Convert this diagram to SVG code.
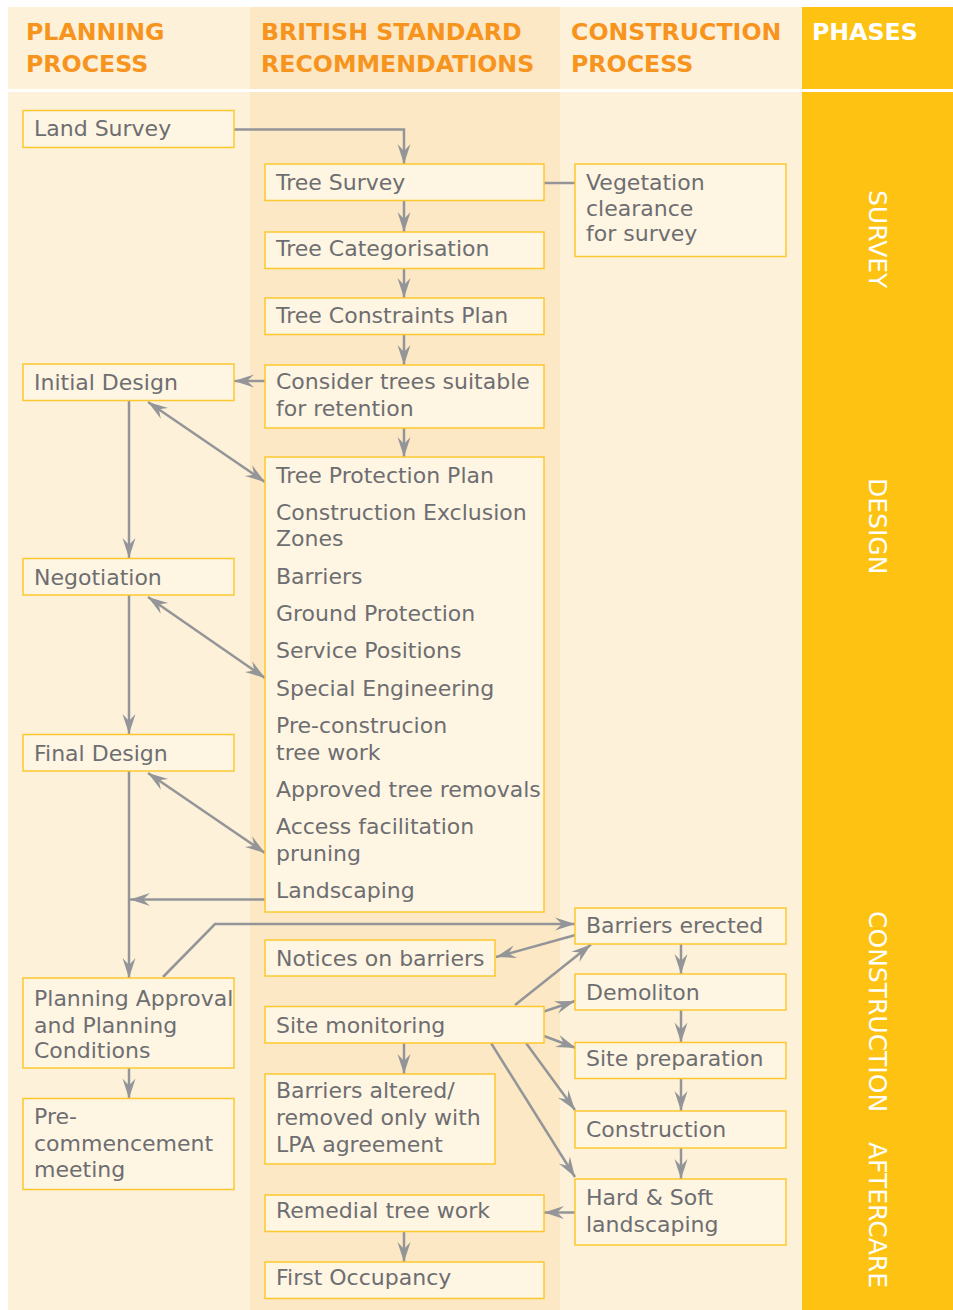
<svg xmlns="http://www.w3.org/2000/svg" width="953" height="1310" viewBox="0 0 953 1310">
<style>
.bg1{fill:#fef1d9}
.bg2{fill:#fde8c5}
.ph{fill:#fdc212}
.hd{font-family:"DejaVu Sans",sans-serif;font-weight:bold;font-size:23.7px;fill:#f7941d}
.hdw{fill:#ffffff}
.box{fill:#fff5e3;stroke:#fdc82f;stroke-width:1.5}
.t{font-family:"DejaVu Sans",sans-serif;font-size:22px;fill:#6d6e71}
.phl{font-family:"DejaVu Sans",sans-serif;font-size:25px;fill:#ffffff}
.c{fill:none;stroke:#939598;stroke-width:2.5}
.a{marker-end:url(#ah)}
.aa{marker-start:url(#ah);marker-end:url(#ah)}
</style>
<defs>
<marker id="ah" viewBox="-21 -8 22 16" refX="0" refY="0" markerWidth="22" markerHeight="16" markerUnits="userSpaceOnUse" orient="auto-start-reverse">
<path d="M0,0 L-20,-6.5 L-13,0 L-20,6.5 Z" fill="#939598"/>
</marker>
</defs>
<rect x="0" y="0" width="953" height="1310" fill="#ffffff"/>
<g id="background">
<rect class="bg1" x="8" y="7" width="242" height="82"/>
<rect class="bg2" x="250" y="7" width="310" height="82"/>
<rect class="bg1" x="560" y="7" width="242" height="82"/>
<rect class="ph" x="802" y="7" width="151" height="82"/>
<rect class="bg1" x="8" y="92" width="242" height="1218"/>
<rect class="bg2" x="250" y="92" width="310" height="1218"/>
<rect class="bg1" x="560" y="92" width="242" height="1218"/>
<rect class="ph" x="802" y="92" width="151" height="1218"/>
</g>
<g id="headers">
<text class="hd" x="26" y="40">PLANNING</text>
<text class="hd" x="26" y="72">PROCESS</text>
<text class="hd" x="261" y="40">BRITISH STANDARD</text>
<text class="hd" x="261" y="72">RECOMMENDATIONS</text>
<text class="hd" x="571" y="40">CONSTRUCTION</text>
<text class="hd" x="571" y="72">PROCESS</text>
<text class="hd hdw" x="812" y="40">PHASES</text>
</g>
<g id="phases">
<text class="phl" transform="translate(869,190) rotate(90)">SURVEY</text>
<text class="phl" transform="translate(869,478) rotate(90)">DESIGN</text>
<text class="phl" transform="translate(869,911) rotate(90)">CONSTRUCTION</text>
<text class="phl" transform="translate(869,1142) rotate(90)">AFTERCARE</text>
</g>
<g id="connectors">
<path class="c a" d="M234,129.5 H404 V164"/>
<path class="c" d="M544,183 H575"/>
<path class="c a" d="M404,200.5 V232"/>
<path class="c a" d="M404,268.5 V298"/>
<path class="c a" d="M404,334.5 V365"/>
<path class="c a" d="M265,381 H234"/>
<path class="c a" d="M404,428 V457"/>
<path class="c aa" d="M148,402 L265,482"/>
<path class="c a" d="M129,400.5 V558"/>
<path class="c aa" d="M148,597 L265,678"/>
<path class="c a" d="M129,595 V734"/>
<path class="c aa" d="M148,773 L265,853"/>
<path class="c a" d="M129,771 V978"/>
<path class="c a" d="M265,899.5 H130"/>
<path class="c a" d="M163,977 L215,924 H575"/>
<path class="c a" d="M575.5,935 L496,957"/>
<path class="c a" d="M515,1005 L591,944.5"/>
<path class="c a" d="M544,1011.5 L575,1001"/>
<path class="c a" d="M544,1036 L576,1048"/>
<path class="c a" d="M526,1043 L575,1110"/>
<path class="c a" d="M491,1043 L575,1177"/>
<path class="c a" d="M404,1043 V1074"/>
<path class="c a" d="M681,944 V974"/>
<path class="c a" d="M681,1010 V1042.5"/>
<path class="c a" d="M681,1078.5 V1111"/>
<path class="c a" d="M681,1148 V1179"/>
<path class="c a" d="M575,1212.5 H544"/>
<path class="c a" d="M404,1231.5 V1262"/>
<path class="c a" d="M129,1068 V1098.5"/>
</g>
<g id="land-survey"><rect class="box" x="23" y="110.5" width="211" height="37"/><text class="t" x="34" y="136">Land Survey</text></g>
<g id="initial-design"><rect class="box" x="23" y="364" width="211" height="36.5"/><text class="t" x="34" y="390">Initial Design</text></g>
<g id="negotiation"><rect class="box" x="23" y="558.5" width="211" height="36.5"/><text class="t" x="34" y="585">Negotiation</text></g>
<g id="final-design"><rect class="box" x="23" y="734.5" width="211" height="36.5"/><text class="t" x="34" y="761">Final Design</text></g>
<g id="planning-approval"><rect class="box" x="23" y="978" width="211" height="90"/><text class="t" x="34" y="1006">Planning Approval</text><text class="t" x="34" y="1032.5">and Planning</text><text class="t" x="34" y="1058">Conditions</text></g>
<g id="pre-commencement"><rect class="box" x="23" y="1098.5" width="211" height="91"/><text class="t" x="34" y="1124">Pre-</text><text class="t" x="34" y="1151">commencement</text><text class="t" x="34" y="1177">meeting</text></g>
<g id="tree-survey"><rect class="box" x="265" y="164" width="279" height="36.5"/><text class="t" x="276" y="190">Tree Survey</text></g>
<g id="tree-categorisation"><rect class="box" x="265" y="232" width="279" height="36.5"/><text class="t" x="276" y="256">Tree Categorisation</text></g>
<g id="tree-constraints-plan"><rect class="box" x="265" y="298" width="279" height="36.5"/><text class="t" x="276" y="323">Tree Constraints Plan</text></g>
<g id="consider-trees"><rect class="box" x="265" y="365" width="279" height="63"/><text class="t" x="276" y="389">Consider trees suitable</text><text class="t" x="276" y="416">for retention</text></g>
<g id="tree-protection-plan"><rect class="box" x="265" y="457" width="279" height="455"/>
<text class="t" x="276" y="483">Tree Protection Plan</text>
<text class="t" x="276" y="520">Construction Exclusion</text>
<text class="t" x="276" y="546">Zones</text>
<text class="t" x="276" y="584">Barriers</text>
<text class="t" x="276" y="621">Ground Protection</text>
<text class="t" x="276" y="658">Service Positions</text>
<text class="t" x="276" y="696">Special Engineering</text>
<text class="t" x="276" y="733">Pre-construcion</text>
<text class="t" x="276" y="760">tree work</text>
<text class="t" x="276" y="797">Approved tree removals</text>
<text class="t" x="276" y="834">Access facilitation</text>
<text class="t" x="276" y="861">pruning</text>
<text class="t" x="276" y="898">Landscaping</text>
</g>
<g id="notices-on-barriers"><rect class="box" x="265" y="940" width="230" height="36"/><text class="t" x="276" y="966">Notices on barriers</text></g>
<g id="site-monitoring"><rect class="box" x="265" y="1006.5" width="279" height="36.5"/><text class="t" x="276" y="1033">Site monitoring</text></g>
<g id="barriers-altered"><rect class="box" x="265" y="1074" width="230" height="90"/><text class="t" x="276" y="1098">Barriers altered/</text><text class="t" x="276" y="1125">removed only with</text><text class="t" x="276" y="1151.5">LPA agreement</text></g>
<g id="remedial-tree-work"><rect class="box" x="265" y="1195" width="279" height="36.5"/><text class="t" x="276" y="1218">Remedial tree work</text></g>
<g id="first-occupancy"><rect class="box" x="265" y="1262" width="279" height="36.5"/><text class="t" x="276" y="1285">First Occupancy</text></g>
<g id="vegetation-clearance"><rect class="box" x="575" y="164" width="211" height="92.5"/><text class="t" x="586" y="190">Vegetation</text><text class="t" x="586" y="215.5">clearance</text><text class="t" x="586" y="241">for survey</text></g>
<g id="barriers-erected"><rect class="box" x="575" y="908" width="211" height="36"/><text class="t" x="586" y="933">Barriers erected</text></g>
<g id="demolition"><rect class="box" x="575" y="974" width="211" height="36"/><text class="t" x="586" y="1000">Demoliton</text></g>
<g id="site-preparation"><rect class="box" x="575" y="1042.5" width="211" height="36"/><text class="t" x="586" y="1066">Site preparation</text></g>
<g id="construction"><rect class="box" x="575" y="1111" width="211" height="37"/><text class="t" x="586" y="1137">Construction</text></g>
<g id="hard-soft-landscaping"><rect class="box" x="575" y="1179" width="211" height="66"/><text class="t" x="586" y="1205">Hard &amp; Soft</text><text class="t" x="586" y="1232">landscaping</text></g>
</svg>
